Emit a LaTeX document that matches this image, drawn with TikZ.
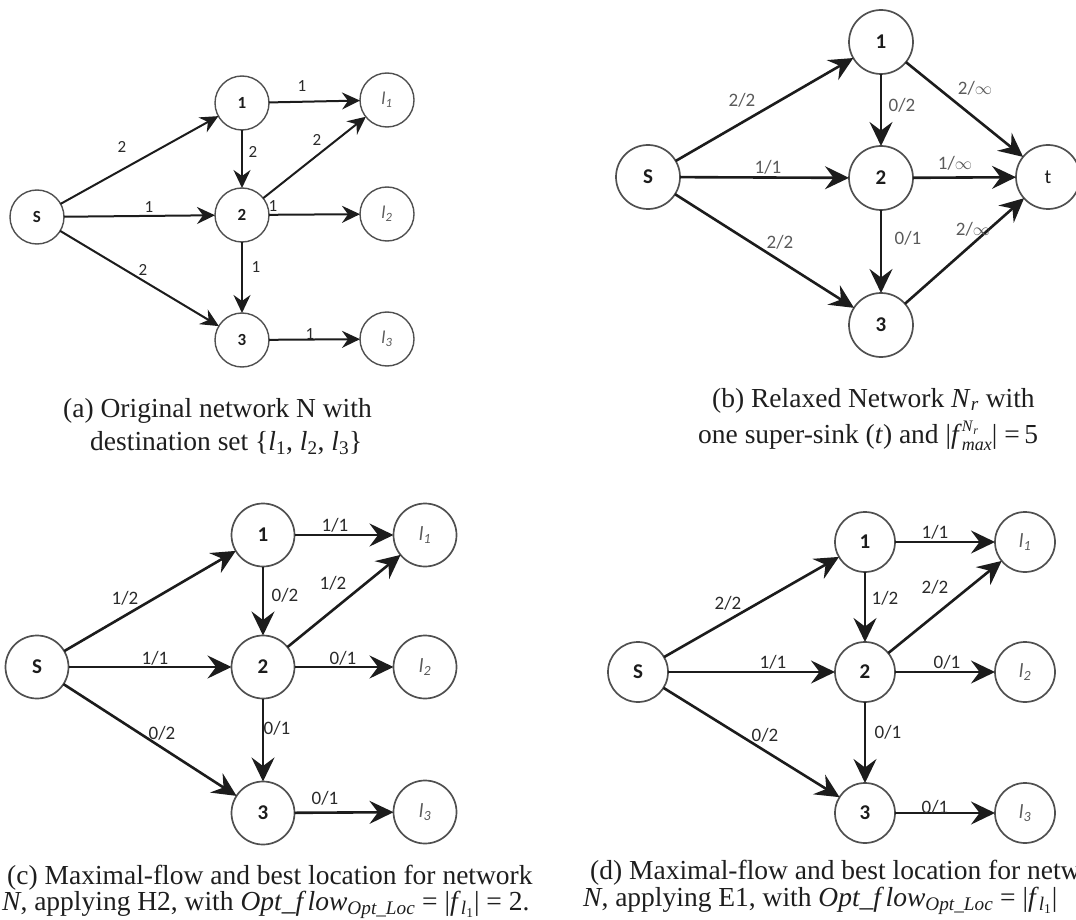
\documentclass[tikz,border=0pt]{standalone}
\usepackage{fontspec}
\setmainfont{Liberation Serif}
\newfontfamily\graphfont{Carlito}
\usetikzlibrary{arrows.meta}

\definecolor{edgeink}{HTML}{1C1C1C}
\definecolor{ringink}{HTML}{505050}
\definecolor{capink}{HTML}{1E1E1E}
\definecolor{lblink}{HTML}{2A2A2A}
\definecolor{softink}{HTML}{5A5A5A}

\tikzset{
  vtx/.style={circle, draw=ringink, inner sep=0pt, outer sep=0pt, text=edgeink},
  vtxA/.style={vtx, line width=1.4pt, minimum size=54pt,
    font=\graphfont\bfseries\fontsize{17}{17}\selectfont},
  vtxB/.style={vtx, line width=1.7pt, minimum size=64pt,
    font=\graphfont\bfseries\fontsize{21}{21}\selectfont},
  vtxC/.style={vtx, line width=1.7pt, minimum size=63pt,
    font=\graphfont\bfseries\fontsize{21}{21}\selectfont},
  vtxD/.style={vtx, line width=1.7pt, minimum size=60pt,
    font=\graphfont\bfseries\fontsize{21}{21}\selectfont},
  sinkA/.style={vtxA, text=softink, font=\graphfont\itshape\fontsize{18}{18}\selectfont},
  sinkB/.style={vtxB, font=\graphfont\fontsize{20}{20}\selectfont},
  sinkC/.style={vtxC, text=softink, font=\graphfont\itshape\fontsize{20}{20}\selectfont},
  sinkD/.style={vtxD, text=softink, font=\graphfont\itshape\fontsize{20}{20}\selectfont},
  flowA/.style={draw=edgeink, line width=2pt,
    -{Stealth[length=18pt,width=17pt,inset=6pt]}},
  flow/.style={draw=edgeink, line width=2.6pt,
    -{Stealth[length=24pt,width=23pt,inset=8.5pt]}},
  lblA/.style={font=\graphfont\fontsize{17}{17}\selectfont, text=lblink, inner sep=0pt},
  lbl/.style={font=\graphfont\fontsize{19}{19}\selectfont, text=lblink, inner sep=0pt},
  lblB/.style={lbl, text=softink},
  capline/.style={font=\fontsize{27.5}{30}\selectfont, text=capink, inner sep=0pt,
    anchor=base west},
}

% sink names inside the nodes
\newcommand{\dest}[1]{l\textsubscript{#1}}
% italic caption symbols
\newcommand{\il}[1]{\textit{l}\textsubscript{#1}}
% superscript stacked over a subscript
\newcommand{\stackidx}[2]{%
  \rlap{\raisebox{0.42em}{\fontsize{16}{16}\selectfont #1}}%
  \raisebox{-0.28em}{\fontsize{18}{18}\selectfont #2}}
\newcommand{\smallsub}[1]{\raisebox{-0.2em}{\fontsize{12}{12}\selectfont #1}}

\begin{document}
\begin{tikzpicture}[x=1pt, y=-1pt]
\useasboundingbox (0,0) rectangle (1076,920);
\clip (0,0) rectangle (1076,920);

% ---------- (a) original network ----------
\node[vtxA] (aS) at (37,217) {S};
\node[vtxA] (a1) at (242,103) {1};
\node[vtxA] (a2) at (242,215) {2};
\node[vtxA] (a3) at (242,340) {3};
\node[sinkA] (al1) at (387,100) {\dest{1}};
\node[sinkA] (al2) at (387,214) {\dest{2}};
\node[sinkA] (al3) at (387,339) {\dest{3}};

\draw[flowA] (aS) -- (a1);
\draw[flowA] (aS) -- (a2);
\draw[flowA] (aS) -- (a3);
\draw[flowA] (a1) -- (al1);
\draw[flowA] (a1) -- (a2);
\draw[flowA] (a2) -- (al1);
\draw[flowA] (a2) -- (al2);
\draw[flowA] (a2) -- (a3);
\draw[flowA] (a3) -- (al3);

\node[lblA] (ta1) at (122,147) {2};
\node[lblA] (ta2) at (149,207) {1};
\node[lblA] (ta3) at (143,270) {2};
\node[lblA] (ta4) at (302,86) {1};
\node[lblA] (ta5) at (253,152) {2};
\node[lblA] (ta6) at (317,140) {2};
\node[lblA] (ta7) at (273,206) {1};
\node[lblA] (ta8) at (256,267) {1};
\node[lblA] (ta9) at (310,334) {1};

\node[capline] (capa1) at (63,417) {(a) Original network N with};
\node[capline] (capa2) at (90,450) {destination set \{\il{1}, \il{2}, \il{3}\}};

% ---------- (b) relaxed network with super-sink ----------
\node[vtxB] (bS) at (648,177) {S};
\node[vtxB] (b1) at (881,42) {1};
\node[vtxB] (b2) at (881,178) {2};
\node[vtxB] (b3) at (881,325) {3};
\node[sinkB] (bt) at (1048,177) {t};

\draw[flow] (bS) -- (b1);
\draw[flow] (bS) -- (b2);
\draw[flow] (bS) -- (b3);
\draw[flow] (b1) -- (b2);
\draw[flow] (b1) -- (bt);
\draw[flow] (b2) -- (bt);
\draw[flow] (b2) -- (b3);
\draw[flow] (b3) -- (bt);

\node[lblB] (tb1) at (742,100) {2/2};
\node[lblB] (tb2) at (768,167) {1/1};
\node[lblB] (tb3) at (780,242) {2/2};
\node[lblB] (tb4) at (902,105) {0/2};
\node[lblB] (tb5) at (975,88) {2/$\infty$};
\node[lblB] (tb6) at (955,163) {1/$\infty$};
\node[lblB] (tb7) at (908,238) {0/1};
\node[lblB] (tb8) at (973,229) {2/$\infty$};

\node[capline] (capb1) at (712,407) {(b) Relaxed Network \textit{N}\textsubscript{\textit{r}} with};
\node[capline] (capb2) at (698,443) {one super-sink (\textit{t}) and |\textit{f}\stackidx{\textit{N}\smallsub{\textit{r}}}{\textit{max}}| =\,5};

% ---------- (c) maximal flow, heuristic H2 ----------
\node[vtxC] (cS) at (37,667) {S};
\node[vtxC] (c1) at (263,535) {1};
\node[vtxC] (c2) at (263,667) {2};
\node[vtxC] (c3) at (263,813) {3};
\node[sinkC] (cl1) at (425,535) {\dest{1}};
\node[sinkC] (cl2) at (425,667) {\dest{2}};
\node[sinkC] (cl3) at (425,812) {\dest{3}};

\draw[flow] (cS) -- (c1);
\draw[flow] (cS) -- (c2);
\draw[flow] (cS) -- (c3);
\draw[flow] (c1) -- (cl1);
\draw[flow] (c1) -- (c2);
\draw[flow] (c2) -- (cl1);
\draw[flow] (c2) -- (cl2);
\draw[flow] (c2) -- (c3);
\draw[flow] (c3) -- (cl3);

\node[lbl] (tc1) at (125,598) {1/2};
\node[lbl] (tc2) at (155,658) {1/1};
\node[lbl] (tc3) at (162,733) {0/2};
\node[lbl] (tc4) at (335,525) {1/1};
\node[lbl] (tc5) at (285,595) {0/2};
\node[lbl] (tc6) at (333,583) {1/2};
\node[lbl] (tc7) at (343,658) {0/1};
\node[lbl] (tc8) at (277,728) {0/1};
\node[lbl] (tc9) at (325,798) {0/1};

\node[capline] (capc1) at (7,884) {(c) Maximal-flow and best location for network};
\node[capline] (capc2) at (2,910) {\textit{N}, applying H2, with \textit{Opt\_f\,low}\textsubscript{\textit{Opt\_Loc}} = |\textit{f}\textsubscript{\il{1}}| = 2.};

% ---------- (d) maximal flow, exact method E1 ----------
\node[vtxD] (dS) at (638,672) {S};
\node[vtxD] (d1) at (865,542) {1};
\node[vtxD] (d2) at (865,672) {2};
\node[vtxD] (d3) at (865,813) {3};
\node[sinkD] (dl1) at (1025,542) {\dest{1}};
\node[sinkD] (dl2) at (1025,672) {\dest{2}};
\node[sinkD] (dl3) at (1025,813) {\dest{3}};

\draw[flow] (dS) -- (d1);
\draw[flow] (dS) -- (d2);
\draw[flow] (dS) -- (d3);
\draw[flow] (d1) -- (dl1);
\draw[flow] (d1) -- (d2);
\draw[flow] (d2) -- (dl1);
\draw[flow] (d2) -- (dl2);
\draw[flow] (d2) -- (d3);
\draw[flow] (d3) -- (dl3);

\node[lbl] (td1) at (728,603) {2/2};
\node[lbl] (td2) at (773,662) {1/1};
\node[lbl] (td3) at (765,735) {0/2};
\node[lbl] (td4) at (935,532) {1/1};
\node[lbl] (td5) at (885,598) {1/2};
\node[lbl] (td6) at (935,587) {2/2};
\node[lbl] (td7) at (947,662) {0/1};
\node[lbl] (td8) at (888,732) {0/1};
\node[lbl] (td9) at (935,807) {0/1};

\node[capline] (capd1) at (590,879) {(d) Maximal-flow and best location for network};
\node[capline] (capd2) at (583,906) {\textit{N}, applying E1, with \textit{Opt\_f\,low}\textsubscript{\textit{Opt\_Loc}} = |\textit{f}\textsubscript{\il{1}}|};
\end{tikzpicture}
\end{document}
